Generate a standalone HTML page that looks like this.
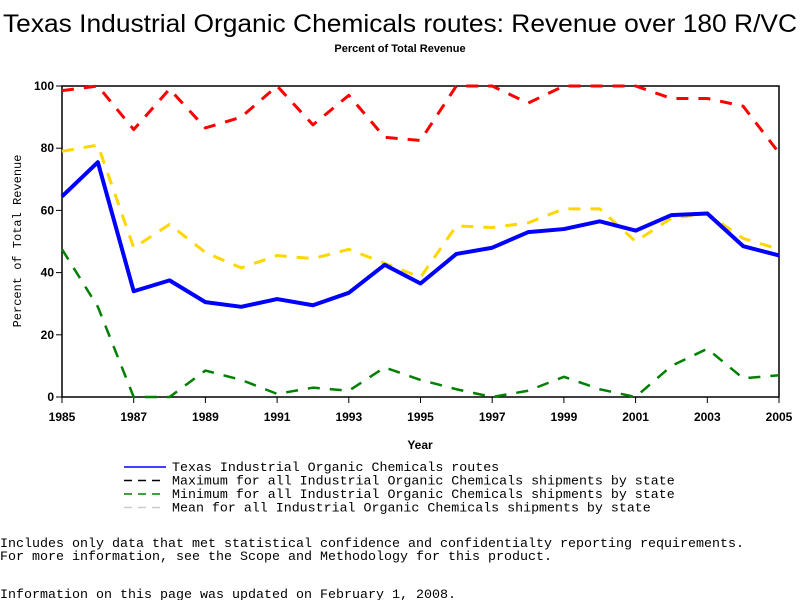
<!DOCTYPE html>
<html><head><meta charset="utf-8"><style>
body{margin:0;background:#fff;}
svg{display:block;}
</style></head><body>
<svg width="800" height="600" xmlns="http://www.w3.org/2000/svg">
<text x="400" y="32" text-anchor="middle" font-family="Liberation Sans, sans-serif" font-size="25" textLength="794" lengthAdjust="spacingAndGlyphs">Texas Industrial Organic Chemicals routes: Revenue over 180 R/VC</text>
<text x="400" y="52" text-anchor="middle" font-family="Liberation Sans, sans-serif" font-size="11" font-weight="bold">Percent of Total Revenue</text>
<g id="plot"></g>
<text x="420" y="449" text-anchor="middle" font-family="Liberation Sans, sans-serif" font-size="12" font-weight="bold">Year</text>
<text transform="translate(21,241) rotate(-90)" text-anchor="middle" font-family="Liberation Mono, monospace" font-size="12">Percent of Total Revenue</text>
<g id="legend" font-family="Liberation Mono, monospace" font-size="13.3"></g>
<g font-family="Liberation Mono, monospace" font-size="13.2">
<text x="0" y="547" textLength="744" lengthAdjust="spacingAndGlyphs">Includes only data that met statistical confidence and confidentialty reporting requirements.</text>
<text x="0" y="560" textLength="552" lengthAdjust="spacingAndGlyphs">For more information, see the Scope and Methodology for this product.</text>
<text x="0" y="598" textLength="456" lengthAdjust="spacingAndGlyphs">Information on this page was updated on February 1, 2008.</text>
</g>
</svg>
<script>
const years=[1985,1986,1987,1988,1989,1990,1991,1992,1993,1994,1995,1996,1997,1998,1999,2000,2001,2002,2003,2004,2005];
const texas=[64.5,75.5,34,37.5,30.5,29,31.5,29.5,33.5,42.5,36.5,46,48,53,54,56.5,53.5,58.5,59,48.5,45.5];
const maxVals=[98.5,100,86,99,86.5,90,100,87.5,97,83.5,82.5,100,100,94.5,100,100,100,96,96,93.5,78.5];
const meanVals=[79,81,48,55.5,46.5,41.5,45.5,44.5,47.5,43,38.5,55,54.5,56,60.5,60.5,50,57.5,59,51,47.5];
const minVals=[47.5,29,0,0,8.5,5.5,1,3,2,9.5,5.5,2.5,0,2,6.5,2.5,0,10,15.5,6,7];
const yTicks=[0,20,40,60,80,100];
const xTicks=[1985,1987,1989,1991,1993,1995,1997,1999,2001,2003,2005];
const legendLabels=["Texas Industrial Organic Chemicals routes","Maximum for all Industrial Organic Chemicals shipments by state","Minimum for all Industrial Organic Chemicals shipments by state","Mean for all Industrial Organic Chemicals shipments by state"];
const NS="http://www.w3.org/2000/svg";
const L=62,R=779,T=86,B=397;
const xs=y=>L+(y-1985)/(2005-1985)*(R-L);
const ys=v=>B-v/100*(B-T);
const plot=document.getElementById('plot');
function mk(tag,attrs,parent){const e=document.createElementNS(NS,tag);for(const k in attrs)e.setAttribute(k,attrs[k]);parent.appendChild(e);return e;}
let r=mk('rect',{x:L,y:T,width:R-L,height:B-T,fill:'none',stroke:'#000','stroke-width':1.5},plot);


yTicks.forEach(v=>{
 let l=mk('line',{x1:L-6,x2:L,y1:ys(v),y2:ys(v),stroke:'#000'},plot);
 
 
 let t=mk('text',{x:L-8,y:ys(v)+4,'text-anchor':'end','font-family':'Liberation Sans, sans-serif','font-size':12,'font-weight':'bold'},plot);
 t.textContent=v;
 
 
});
xTicks.forEach(v=>{
 let l=mk('line',{x1:xs(v),x2:xs(v),y1:B,y2:B+6,stroke:'#000'},plot);
 
 
 let t=mk('text',{x:xs(v),y:B+24,'text-anchor':'middle','font-family':'Liberation Sans, sans-serif','font-size':12,'font-weight':'bold'},plot);
 t.textContent=v;
 
 
});
const series=[
 {d:maxVals,c:'#ff0000',w:3,dash:'12 10',n:'max-line'},
 {d:meanVals,c:'#ffd700',w:3,dash:'12 10',n:'mean-line'},
 {d:minVals,c:'#008000',w:2.5,dash:'12 10',n:'min-line'},
 {d:texas,c:'#0000ff',w:4,dash:'',n:'texas-line'}
];
series.forEach(s=>{
 const pts=s.d.map((v,i)=>xs(years[i])+','+ys(v)).join(' ');
 let p=mk('polyline',{points:pts,fill:'none',stroke:s.c,'stroke-width':s.w,'stroke-dasharray':s.dash,'stroke-linejoin':'round'},plot);
 
 
});
const leg=document.getElementById('legend');
const legStyles=[['#0000ff',''],['#000','8 6'],['#008000','8 6'],['#ccc','8 6']];
legendLabels.forEach((lab,i)=>{
 const y=471+i*13.5;
 let l=mk('line',{x1:124,x2:166,y1:y-4,y2:y-4,stroke:legStyles[i][0],'stroke-width':1.5,'stroke-dasharray':legStyles[i][1]},leg);
 
 
 let t=mk('text',{x:172,y:y},leg);
 t.textContent=lab;
 
 
});
</script>
</body></html>
